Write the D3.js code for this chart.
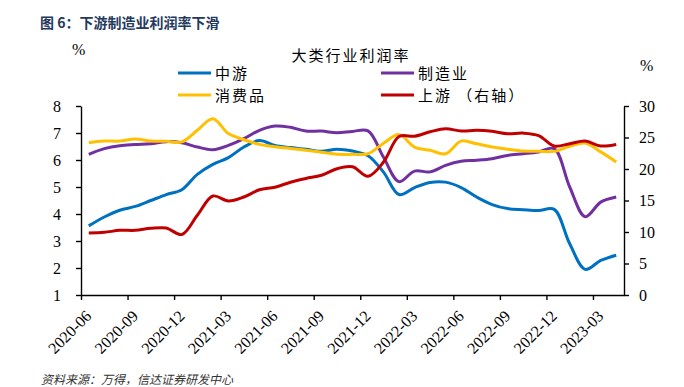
<!DOCTYPE html>
<html>
<head>
<meta charset="utf-8">
<script src="https://cdn.jsdelivr.net/npm/d3@7"></script>
<style>
  body { margin: 0; background: #fff; }
  svg { display: block; }
</style>
</head>
<body>
<div id="chart"></div>
<script>
// months on the x axis (one point per month)
const months = [
  '2020-06','2020-07','2020-08','2020-09','2020-10','2020-11','2020-12',
  '2021-01','2021-02','2021-03','2021-04','2021-05','2021-06','2021-07','2021-08','2021-09','2021-10','2021-11','2021-12',
  '2022-01','2022-02','2022-03','2022-04','2022-05','2022-06','2022-07','2022-08','2022-09','2022-10','2022-11','2022-12',
  '2023-01','2023-02','2023-03','2023-04'
];
const tickMonths = ['2020-06','2020-09','2020-12','2021-03','2021-06','2021-09','2021-12','2022-03','2022-06','2022-09','2022-12','2023-03'];

// left axis series (%)
const midstream = [3.56,3.89,4.14,4.28,4.50,4.72,4.90,5.47,5.84,6.09,6.48,6.72,6.54,6.46,6.40,6.32,6.40,6.33,6.16,
  5.55,4.72,4.98,5.17,5.18,4.98,4.63,4.35,4.20,4.16,4.13,4.17,2.90,1.95,2.28,2.47];
const manufacturing = [6.21,6.42,6.53,6.57,6.60,6.68,6.64,6.48,6.38,6.54,6.79,7.10,7.26,7.21,7.07,7.07,7.01,7.06,7.08,
  6.10,5.20,5.59,5.56,5.80,5.95,5.99,6.05,6.17,6.23,6.30,6.42,5.00,3.90,4.44,4.63];
const consumer = [6.64,6.70,6.70,6.78,6.70,6.69,6.67,7.10,7.53,6.98,6.75,6.58,6.49,6.43,6.36,6.29,6.21,6.21,6.23,
  6.62,6.94,6.48,6.36,6.23,6.70,6.60,6.48,6.40,6.33,6.32,6.32,6.51,6.63,6.30,5.93];
// right axis series (%)
const upstream = [9.84,9.95,10.26,10.26,10.58,10.63,9.60,12.65,15.71,14.92,15.56,16.70,17.10,17.90,18.50,19.00,20.05,20.35,18.84,
  21.10,25.15,25.20,25.90,26.40,26.03,26.14,25.98,25.60,25.70,25.30,23.65,24.00,24.44,23.65,23.90];

const leftTicks = [1,2,3,4,5,6,7,8];
const rightTicks = [0,5,10,15,20,25,30];

const W = 684, H = 387;
const margin = { left: 81, right: 60, top: 106, bottom: 92 };
const x0 = margin.left, x1 = W - margin.right, y0 = H - margin.bottom, y1 = margin.top;

const svg = d3.select('#chart').append('svg')
  .attr('width', W)
  .attr('height', H);

const x = d3.scaleLinear().domain([0, months.length]).range([x0, x1]);
const yL = d3.scaleLinear().domain([1, 8]).range([y0, y1]);
const yR = d3.scaleLinear().domain([0, 30]).range([y0, y1]);

const serif = 'Liberation Serif, Times New Roman, serif';
const cjk = 'Noto Sans CJK SC, Noto Sans, sans-serif';

// figure caption
svg.append('text')
  .attr('x', 40).attr('y', 28)
  .attr('font-family', cjk)
  .attr('font-size', 14)
  .attr('font-weight', 'bold')
  .attr('fill', '#23395d')
  .text('图 6：下游制造业利润率下滑');

// unit labels
svg.append('text').attr('x', 72).attr('y', 55)
  .attr('font-family', serif).attr('font-size', 16).text('%');
svg.append('text').attr('x', 640).attr('y', 71)
  .attr('font-family', serif).attr('font-size', 16).text('%');

// chart title
svg.append('text')
  .attr('x', 351).attr('y', 61)
  .attr('text-anchor', 'middle')
  .attr('font-family', cjk)
  .attr('font-size', 15)
  .attr('letter-spacing', 2)
  .text('大类行业利润率');

const series = [
  { name: '中游', values: midstream, color: '#0070c0', y: yL },
  { name: '制造业', values: manufacturing, color: '#7030a0', y: yL },
  { name: '消费品', values: consumer, color: '#ffc000', y: yL },
  { name: '上游 （右轴）', values: upstream, color: '#c00000', y: yR }
];

// legend
const legendPos = [[178, 73], [381, 73], [178, 95], [381, 95]];
series.forEach((s, i) => {
  const [lx, ly] = legendPos[i];
  svg.append('line')
    .attr('x1', lx).attr('x2', lx + 33)
    .attr('y1', ly).attr('y2', ly)
    .attr('stroke', s.color)
    .attr('stroke-width', 3);
  svg.append('text')
    .attr('x', lx + 37).attr('y', ly + 6)
    .attr('font-family', cjk)
    .attr('font-size', 15)
    .attr('letter-spacing', 2)
    .text(s.name);
});

// lines
series.forEach(s => {
  const line = d3.line()
    .x((d, i) => x(i + 0.5))
    .y(d => s.y(d))
    .curve(d3.curveCatmullRom.alpha(0.5));
  svg.append('path')
    .datum(s.values)
    .attr('d', line)
    .attr('fill', 'none')
    .attr('stroke', s.color)
    .attr('stroke-width', 3)
    .attr('stroke-linejoin', 'round');
});

// axes
const leftAxis = svg.append('g')
  .attr('transform', `translate(${x0},0)`)
  .call(d3.axisLeft(yL).tickValues(leftTicks).tickFormat(d3.format('d'))
    .tickSize(5).tickSizeOuter(0).tickPadding(15));

const rightAxis = svg.append('g')
  .attr('transform', `translate(${x1},0)`)
  .call(d3.axisRight(yR).tickValues(rightTicks).tickFormat(d3.format('d'))
    .tickSize(5).tickSizeOuter(0).tickPadding(10));

const bottomAxis = svg.append('g')
  .attr('transform', `translate(0,${y0})`)
  .call(d3.axisBottom(x)
    .tickValues(tickMonths.map(m => months.indexOf(m)))
    .tickFormat(i => months[i])
    .tickSize(5)
    .tickSizeOuter(0));

[leftAxis, rightAxis, bottomAxis].forEach(g => {
  g.attr('font-family', serif).attr('font-size', 16);
  g.selectAll('path, line').attr('stroke', '#000').attr('stroke-width', 1.4);
  g.selectAll('text').attr('fill', '#000');
});

bottomAxis.selectAll('text')
  .attr('text-anchor', 'end')
  .attr('dy', null)
  .attr('y', 0)
  .attr('transform', 'translate(11,22) rotate(-45)');

// source note
svg.append('text')
  .attr('x', 41).attr('y', 384)
  .attr('font-family', cjk)
  .attr('font-size', 12)
  .attr('font-style', 'italic')
  .attr('fill', '#333')
  .text('资料来源：万得，信达证券研发中心');
</script>
</body>
</html>
